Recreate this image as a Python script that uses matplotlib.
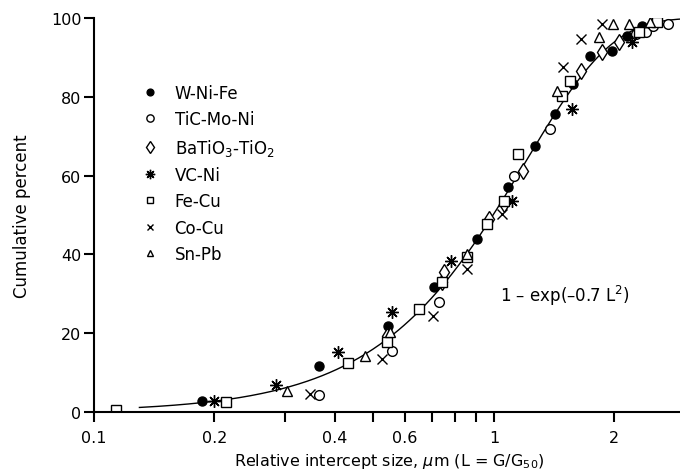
import numpy as np
import matplotlib
matplotlib.use('Agg')
import matplotlib.pyplot as plt

plt.rcParams['font.family'] = ['DejaVu Sans']
plt.rcParams['mathtext.fontset'] = 'dejavusans'

# Valores (L = G/G50, percentual acumulado)
wnife_x = [0.186, 0.365, 0.543, 0.71, 0.905, 1.085, 1.268, 1.42, 1.58, 1.74, 1.97, 2.15, 2.35]
wnife_y = [2.8, 11.7, 21.8, 31.7, 43.9, 57.1, 67.5, 75.6, 83.2, 90.4, 91.6, 95.4, 98.0]

ticmoni_x = [0.365, 0.556, 0.73, 1.12, 1.38, 2.27, 2.4, 2.5, 2.73]
ticmoni_y = [4.3, 15.5, 27.9, 60.0, 71.8, 96.0, 96.4, 98.0, 98.5]

batio_x = [0.54, 0.74, 0.75, 0.97, 1.06, 1.18, 1.65, 1.86, 2.06]
batio_y = [19.3, 33.0, 35.5, 49.0, 52.8, 61.2, 86.5, 91.4, 94.0]

vcni_x = [0.2, 0.285, 0.407, 0.557, 0.78, 1.11, 1.57, 2.22]
vcni_y = [2.8, 6.9, 15.2, 25.4, 38.3, 53.6, 76.9, 94.0]

fecu_x = [0.1135, 0.214, 0.431, 0.54, 0.649, 0.74, 0.856, 0.96, 1.06, 1.148, 1.479, 1.55, 2.3, 2.55]
fecu_y = [0.5, 2.5, 12.4, 17.8, 26.1, 33.0, 39.3, 47.7, 53.6, 65.5, 80.2, 84.0, 96.5, 99.0]

cocu_x = [0.347, 0.525, 0.705, 0.856, 1.05, 1.49, 1.65, 1.86]
cocu_y = [4.6, 13.5, 24.4, 36.3, 50.3, 87.6, 94.7, 98.5]

snpb_x = [0.304, 0.476, 0.55, 0.856, 1.44, 1.83, 1.98, 2.18, 2.45]
snpb_y = [5.3, 14.2, 20.3, 40.0, 81.5, 95.2, 98.5, 98.5, 99.0]

fig = plt.figure(figsize=(6.8, 4.77), dpi=100)
ax = fig.add_axes([0.138, 0.134, 0.869, 0.826])

# Curva teórica
L = np.logspace(np.log10(0.13), np.log10(3.0), 300)
ax.plot(L, 100 * (1 - np.exp(-0.7 * L**2)), color='black', lw=1.0, zorder=1)

kw = dict(linestyle='none', markeredgecolor='black', markeredgewidth=1.0)
ax.plot(wnife_x, wnife_y, marker='o', ms=6.5, markerfacecolor='black', label='W-Ni-Fe', **kw)
ax.plot(ticmoni_x, ticmoni_y, marker='o', ms=7, markerfacecolor='white', label='TiC-Mo-Ni', **kw)
ax.plot(batio_x, batio_y, marker='d', ms=8, markerfacecolor='white', label='BaTiO$_3$-TiO$_2$', **kw)
ax.plot(vcni_x, vcni_y, marker=(8, 2, 0), ms=9, markerfacecolor='black', label='VC-Ni', **kw)
ax.plot(fecu_x, fecu_y, marker='s', ms=6.5, markerfacecolor='white', label='Fe-Cu', **kw)
ax.plot(cocu_x, cocu_y, marker='x', ms=6.5, markerfacecolor='black', label='Co-Cu', **kw)
ax.plot(snpb_x, snpb_y, marker='^', ms=6.5, markerfacecolor='white', label='Sn-Pb', **kw)

ax.set_xscale('log')
ax.set_xlim(0.1, 3)
ax.set_ylim(0, 100)

xt = [0.1, 0.2, 0.3, 0.4, 0.5, 0.6, 0.7, 0.8, 0.9, 1, 2, 3]
xl = ['0.1', '0.2', '', '0.4', '', '0.6', '', '', '', '1', '2', '3']
ax.set_xticks(xt)
ax.set_xticklabels(xl)
ax.xaxis.set_minor_locator(matplotlib.ticker.NullLocator())
ax.set_yticks([0, 20, 40, 60, 80, 100])

ax.tick_params(axis='both', direction='out', length=7, width=1.5, labelsize=11.5)
ax.tick_params(axis='x', pad=6)
ax.tick_params(axis='y', pad=2)
for s in ['top', 'right']:
    ax.spines[s].set_visible(False)
for s in ['left', 'bottom']:
    ax.spines[s].set_linewidth(1.5)

ax.set_xlabel('Relative intercept size, $\\mu$m (L = G/G$_{50}$)', fontsize=11.5, labelpad=4)
ax.set_ylabel('Cumulative percent', fontsize=12, labelpad=14)

ax.text(1.034, 29.7, '1 \u2013 exp(\u20130.7 L$^2$)', fontsize=12, va='center', ha='left')

ax.legend(loc='upper left', bbox_to_anchor=(0.069, 0.85), frameon=False,
          markerscale=0.75, fontsize=12, labelspacing=0.5, handletextpad=1.0,
          handlelength=1.0, borderaxespad=0)

fig.savefig('out.png', dpi=100)
